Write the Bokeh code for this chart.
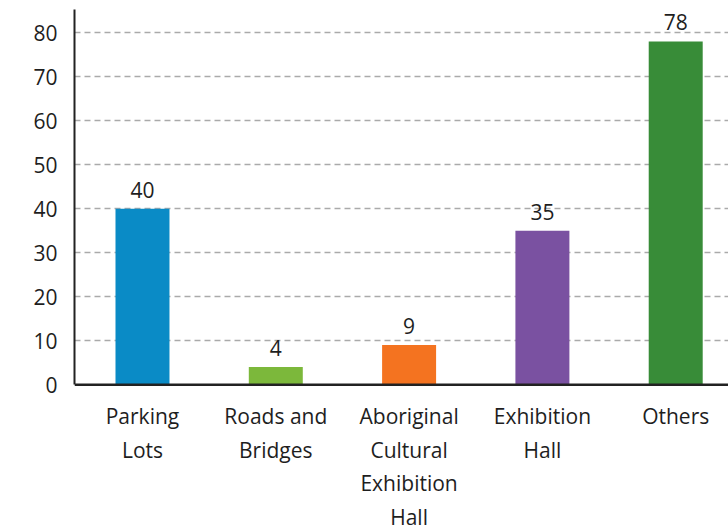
from bokeh.plotting import figure
from bokeh.models import Range1d, FixedTicker, Span, ColumnDataSource
from bokeh.embed import file_html
from bokeh.resources import INLINE
from bokeh.core.properties import value

categories = ["Parking\nLots", "Roads and\nBridges", "Aboriginal\nCultural\nExhibition\nHall", "Exhibition\nHall", "Others"]
values = [40, 4, 9, 35, 78]
colors = ["#0a8bc6", "#7cb83b", "#f47320", "#7a51a1", "#388c38"]
y_ticks = [0, 10, 20, 30, 40, 50, 60, 70, 80]

FONT = "Open Sans"
TXT = "#1e1e1e"

xs = list(range(len(categories)))
src = ColumnDataSource(dict(x=xs, top=values, color=colors,
                            vlabel=[str(v) for v in values],
                            cat=categories))

p = figure(width=728, height=532, output_backend="svg", toolbar_location=None,
           x_axis_location=None, y_axis_location="left",
           x_range=Range1d(-0.51, 4.396), y_range=Range1d(-33.6, 87.3),
           min_border_left=74, min_border_right=0, min_border_top=0, min_border_bottom=0)
p.outline_line_color = None
p.background_fill_color = "white"
p.border_fill_color = "white"

ax = p.yaxis[0]
ax.ticker = FixedTicker(ticks=y_ticks)
ax.bounds = (0, 85.2)
ax.axis_line_width = 2
ax.axis_line_color = "#222222"
ax.major_tick_line_color = None
ax.minor_tick_line_color = None
ax.major_label_standoff = 11
ax.major_label_text_font = FONT
ax.major_label_text_font_size = "21px"
ax.major_label_text_color = TXT

p.xgrid.visible = False
p.ygrid.ticker = FixedTicker(ticks=y_ticks[1:])
p.ygrid.grid_line_color = "#aaaaaa"
p.ygrid.grid_line_width = 1.5
p.ygrid.grid_line_dash = "6 4"

p.vbar(x="x", top="top", width=0.405, bottom=0, fill_color="color", line_color=None, source=src)

p.add_layout(Span(location=0, dimension="width", line_color="#222222", line_width=2.5))

p.text(x="x", y="top", text="vlabel", source=src, text_align="center", text_baseline="bottom",
       y_offset=-11, text_font=value(FONT), text_font_size="21px", text_color=TXT)

p.text(x="x", y=-4.0, text="cat", source=src, text_align="center", text_baseline="top",
       text_line_height=1.2, text_font=value(FONT), text_font_size="21px", text_color=TXT)

open("out.html", "w").write(file_html(p, INLINE))
